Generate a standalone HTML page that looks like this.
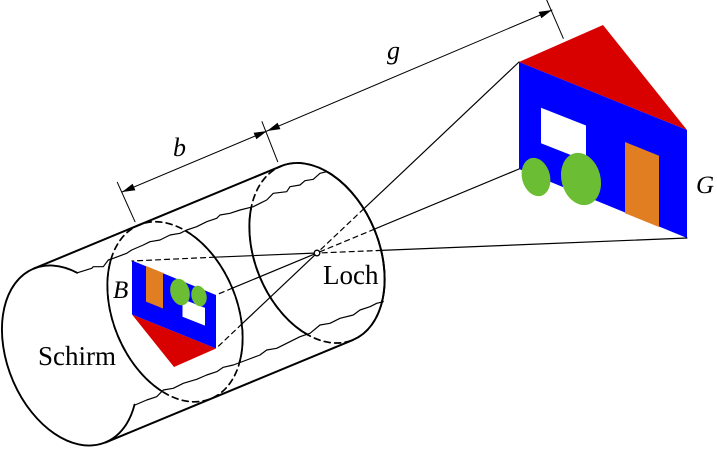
<!DOCTYPE html>
<html>
<head>
<meta charset="utf-8">
<style>
  html, body { margin: 0; padding: 0; background: #ffffff; }
  svg { display: block; }
  text { font-family: "Liberation Serif", "DejaVu Serif", serif; fill: #000; }
</style>
</head>
<body>
<svg width="717" height="450" viewBox="0 0 717 450" xmlns="http://www.w3.org/2000/svg">
  <defs>
    <clipPath id="tear">
      <polygon points="77.2,272.8 91.7,268.3 93.3,266.7 103.3,266.7 108.3,260 113.3,258.3 126.7,253.3 131.7,250 143.3,245 150,241.7 160,240 170,235 180,233.3 186.7,230 196.7,226.7 206.7,221.7 216.7,218.3 220,215 230,213.3 240,210 253.3,206.7 260,203.3 266.7,200 273.3,193.3 286.7,191.7 290,186.7 300,185 305,180.7 313.3,179.3 320,173.3 326.7,171.7 450,171.7 450,301.7 383.3,301.7 376.7,303.3 370,306.7 360,310 353.3,315 340,318.3 330,323.3 320,325 310,333.3 300,336.7 286.7,343.3 276.7,348.3 266.7,350 260,355 246.7,360 233.3,365 223.3,367.3 216.7,371.7 206.7,375 196.7,379.3 183.3,383.3 173.3,388.3 163.3,390 156.7,396.7 146.7,400 135,405 60,405 60,272.8"/>
    </clipPath>
    <clipPath id="rh">
      <polygon points="240.5,68.2 393.5,437.8 900,437.8 900,68.2"/>
    </clipPath>
  </defs>

  <rect x="0" y="0" width="717" height="450" fill="#ffffff"/>

  <!-- Big house (G) -->
  <polygon points="519,62 603,25 687,130" fill="#d90000"/>
  <polygon points="519,62 687,130 687,238 519,169" fill="#0000ff"/>
  <polygon points="541,107.7 586,125.5 586,161 541,143.3" fill="#ffffff"/>
  <polygon points="625,142 659,155.8 659,227 625,213.2" fill="#e27e22"/>
  <ellipse cx="536" cy="177" rx="14" ry="19.5" fill="#6bbd33" transform="rotate(-15 536 177)"/>
  <ellipse cx="581" cy="179" rx="19.5" ry="26.5" fill="#6bbd33" transform="rotate(-15 581 179)"/>

  <!-- Small inverted house (B) -->
  <g transform="translate(475.5 379.5) scale(-0.5)">
    <polygon points="519,62 603,25 687,130" fill="#d90000"/>
    <polygon points="519,62 687,130 687,238 519,169" fill="#0000ff"/>
    <polygon points="541,107.7 586,125.5 586,161 541,143.3" fill="#ffffff"/>
    <polygon points="625,142 659,155.8 659,227 625,213.2" fill="#e27e22"/>
  </g>
  <ellipse cx="180" cy="292" rx="9.5" ry="13.5" fill="#6bbd33" transform="rotate(-15 180 292)"/>
  <ellipse cx="199" cy="296" rx="7.5" ry="10.5" fill="#6bbd33" transform="rotate(-15 199 296)"/>

  <!-- Cylinder outline -->
  <g fill="none" stroke="#000" stroke-linecap="round">
    <path d="M77.2,272.8 A62,94 -22.5 1 0 134.5,404.7" stroke-width="1.9"/>
    <line x1="33.6" y1="268.7" x2="281" y2="166.2" stroke-width="2"/>
    <line x1="105.6" y1="442.4" x2="353" y2="339.9" stroke-width="2"/>

    <!-- tear lines -->
    <polyline stroke-width="1.2" stroke-linejoin="round" points="77.2,272.8 91.7,268.3 93.3,266.7 103.3,266.7 108.3,260 113.3,258.3 126.7,253.3 131.7,250 143.3,245 150,241.7 160,240 170,235 180,233.3 186.7,230 196.7,226.7 206.7,221.7 216.7,218.3 220,215 230,213.3 240,210 253.3,206.7 260,203.3 266.7,200 273.3,193.3 286.7,191.7 290,186.7 300,185 305,180.7 313.3,179.3 320,173.3 326.7,171.7"/>
    <polyline stroke-width="1.2" stroke-linejoin="round" points="135,405 146.7,400 156.7,396.7 163.3,390 173.3,388.3 183.3,383.3 196.7,379.3 206.7,375 216.7,371.7 223.3,367.3 233.3,365 246.7,360 260,355 266.7,350 276.7,348.3 286.7,343.3 300,336.7 310,333.3 320,325 330,323.3 340,318.3 353.3,315 360,310 370,306.7 376.7,303.3 383.3,301.7"/>

    <!-- B ellipse (image plane) -->
    <ellipse cx="175" cy="311.8" rx="62" ry="94" transform="rotate(-22.5 175 311.8)" stroke-width="1.7" stroke-dasharray="6 4.5"/>
    <g clip-path="url(#tear)">
      <ellipse cx="175" cy="311.8" rx="62" ry="94" transform="rotate(-22.5 175 311.8)" stroke-width="1.8"/>
    </g>

    <!-- Loch ellipse -->
    <ellipse cx="317" cy="253" rx="62" ry="94" transform="rotate(-22.5 317 253)" stroke-width="1.7" stroke-dasharray="6 4.5"/>
    <g clip-path="url(#tear)">
      <ellipse cx="317" cy="253" rx="62" ry="94" transform="rotate(-22.5 317 253)" stroke-width="1.9"/>
    </g>
    <g clip-path="url(#rh)">
      <ellipse cx="317" cy="253" rx="62" ry="94" transform="rotate(-22.5 317 253)" stroke-width="1.9"/>
    </g>

    <!-- Rays -->
    <g stroke-width="1.2">
      <line x1="519" y1="62" x2="363.8" y2="208.8"/>
      <line x1="363.8" y1="208.8" x2="317" y2="253" stroke-dasharray="5 4"/>
      <line x1="519" y1="169" x2="374.3" y2="229.2"/>
      <line x1="374.3" y1="229.2" x2="317" y2="253" stroke-dasharray="5 4"/>
      <line x1="687" y1="238" x2="381.1" y2="250.4"/>
      <line x1="381.1" y1="250.4" x2="317" y2="253" stroke-dasharray="5 4"/>

      <line x1="317" y1="253" x2="241.8" y2="324.1"/>
      <line x1="241.8" y1="324.1" x2="216" y2="348.5" stroke-dasharray="5 4"/>
      <line x1="317" y1="253" x2="232.3" y2="288.2"/>
      <line x1="232.3" y1="288.2" x2="216" y2="295" stroke-dasharray="5 4"/>
      <line x1="317" y1="253" x2="214.5" y2="257.2"/>
      <line x1="214.5" y1="257.2" x2="132" y2="261" stroke-dasharray="5 4"/>
    </g>

    <!-- Dimension lines -->
    <g stroke-width="1">
      <line x1="117.3" y1="182.3" x2="135" y2="221.7"/>
      <line x1="262" y1="121.7" x2="277.7" y2="161.7"/>
      <line x1="546.7" y1="0" x2="563.3" y2="38.3"/>
      <line x1="122" y1="192" x2="267" y2="131"/>
      <line x1="267" y1="131" x2="552" y2="10"/>
    </g>
  </g>

  <!-- pinhole -->
  <circle cx="317" cy="253" r="2.8" fill="#ffffff" stroke="#000" stroke-width="1.3"/>

  <!-- Arrowheads -->
  <g fill="#000">
    <polygon points="122,192 135.4,190.2 132.6,183.8"/>
    <polygon points="267,131 256.4,139.2 253.6,132.8"/>
    <polygon points="267,131 280.4,129.1 277.6,122.7"/>
    <polygon points="552,10 541.4,18.3 538.6,11.9"/>
  </g>

  <!-- Labels -->
  <text x="173" y="156" font-size="26" font-style="italic">b</text>
  <text x="387" y="59" font-size="26" font-style="italic">g</text>
  <text x="113" y="298" font-size="25" font-style="italic">B</text>
  <text x="696" y="193" font-size="25" font-style="italic">G</text>
  <text x="38" y="365" font-size="27">Schirm</text>
  <text x="323" y="284" font-size="27">Loch</text>
</svg>
</body>
</html>
